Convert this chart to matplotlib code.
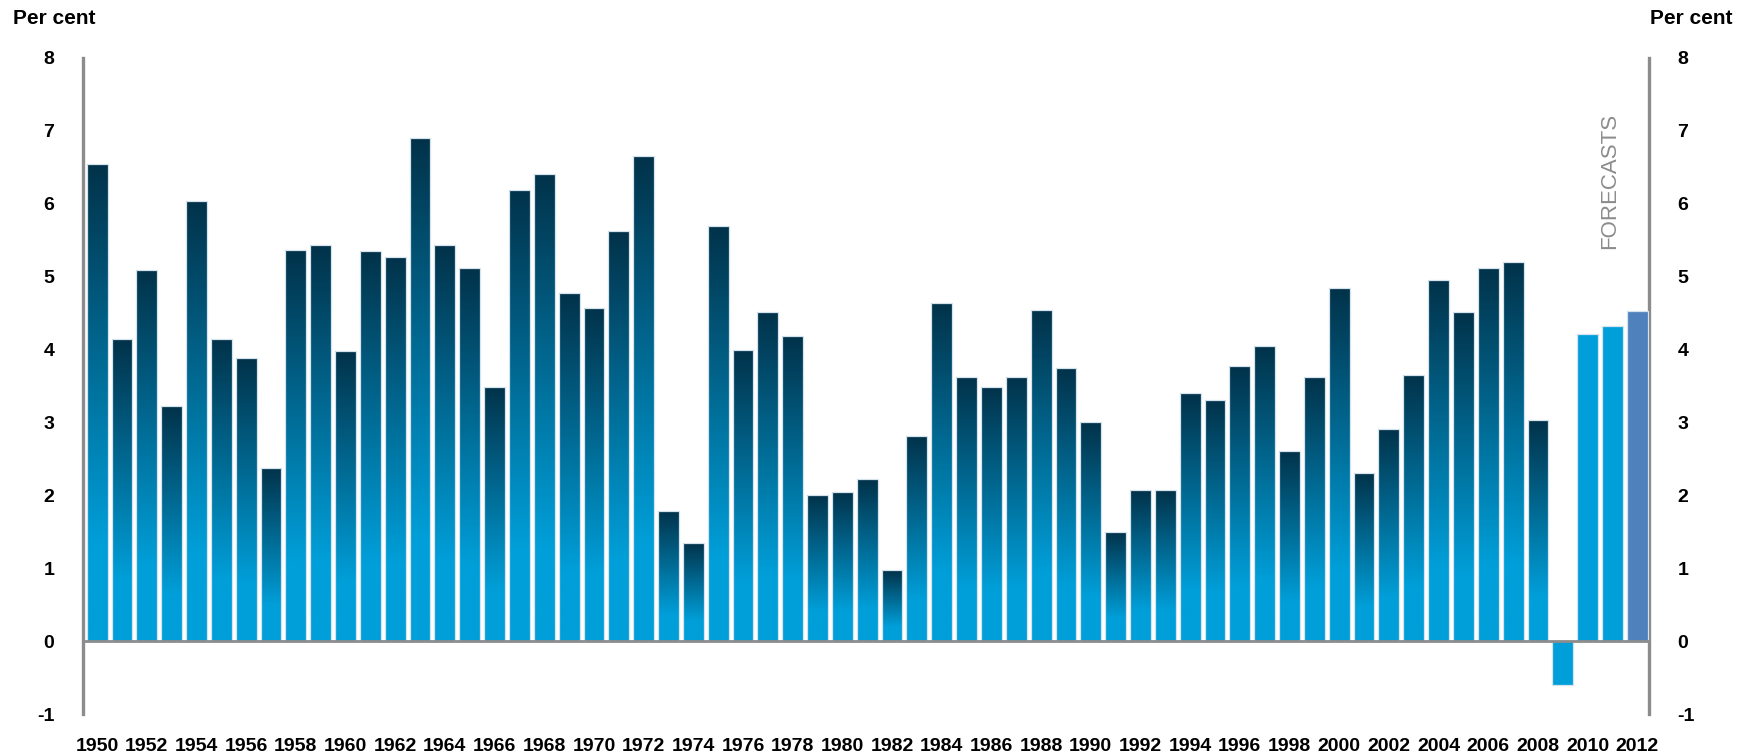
import numpy as np
import matplotlib
matplotlib.use("Agg")
import matplotlib.pyplot as plt
from matplotlib.colors import LinearSegmentedColormap

years = list(range(1950, 2013))
growth = [6.54, 4.14, 5.09, 3.22, 6.04, 4.15, 3.89, 2.38, 5.36, 5.43,
          3.98, 5.35, 5.27, 6.90, 5.43, 5.12, 3.49, 6.19, 6.41, 4.78,
          4.57, 5.62, 6.65, 1.79, 1.35, 5.70, 4.00, 4.52, 4.18, 2.01,
          2.05, 2.22, 0.97, 2.82, 4.64, 3.63, 3.49, 3.63, 4.54, 3.75,
          3.00, 1.50, 2.07, 2.07, 3.40, 3.31, 3.77, 4.05, 2.61, 3.63,
          4.84, 2.31, 2.91, 3.65, 4.95, 4.51, 5.12, 5.20, 3.03, -0.60,
          4.22, 4.32, 4.53]
year_labels = [str(y) for y in years[::2]]

dark = '#02324a'
light = '#009fd9'
forecast_col = '#4f81bd'
grey = '#8c8c8c'

plt.rcParams['font.family'] = ['Liberation Sans', 'DejaVu Sans']
plt.rcParams['axes.unicode_minus'] = False

fig = plt.figure(figsize=(17.52, 7.55), dpi=100)
ax = fig.add_axes([0.0472, 0.0543, 0.9412 - 0.0472, 0.9232 - 0.0543])

x = np.arange(len(years))
bars = ax.bar(x, growth, width=0.84, facecolor='none', edgecolor='#d5e3ec', linewidth=0.9, zorder=3)

# each historical bar gets its own top-to-bottom shade
cmap = LinearSegmentedColormap.from_list('shade', [(0, dark), (0.8, light), (1, light)])
grad = np.linspace(0, 1, 256).reshape(-1, 1)
for i, b in enumerate(bars):
    yr = years[i]
    if yr >= 2009:
        b.set_facecolor(forecast_col if yr == 2012 else light)
        continue
    x0 = b.get_x()
    w = b.get_width()
    h = b.get_height()
    im = ax.imshow(grad, cmap=cmap, aspect='auto', origin='upper',
                   extent=(x0, x0 + w, 0, h), zorder=2, interpolation='bilinear')
    im.set_clip_path(b)

ax.set_xlim(-0.58, 62.47)
ax.set_ylim(-1, 8)

ax.axhline(0, color=grey, lw=2, zorder=4)
for s in ['top', 'bottom']:
    ax.spines[s].set_visible(False)
for s in ['left', 'right']:
    ax.spines[s].set_color(grey)
    ax.spines[s].set_linewidth(2.4)

ax.set_yticks(range(-1, 9))
ax.tick_params(axis='y', left=False, right=False, labelleft=True, labelright=True, pad=17)
ax.set_xticks(x[::2])
ax.set_xticklabels(year_labels)
ax.tick_params(axis='x', bottom=False, pad=14)
for lab in ax.get_yticklabels():
    lab.set_fontweight('bold')
    lab.set_fontsize(14)
for lab in ax.get_xticklabels():
    lab.set_fontweight('bold')
    lab.set_fontsize(14)

fig.text(13 / 1752, 1 - 19 / 755, 'Per cent', fontsize=15, fontweight='bold', va='center', ha='left')
fig.text(1650 / 1752, 1 - 19 / 755, 'Per cent', fontsize=15, fontweight='bold', va='center', ha='left')
fig.text(1610 / 1752, 1 - 181 / 755, 'FORECASTS', fontsize=16, color=grey, rotation=90,
         va='center', ha='center')

fig.savefig('out.png', dpi=100)
